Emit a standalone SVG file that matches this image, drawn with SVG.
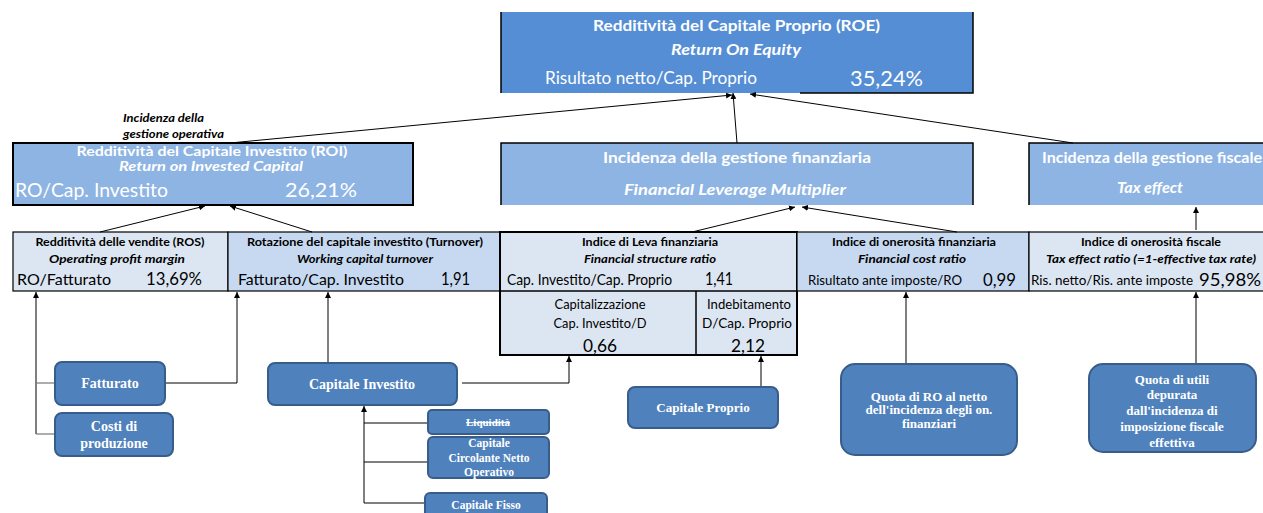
<svg xmlns="http://www.w3.org/2000/svg" width="1263" height="513" viewBox="0 0 1263 513">
<defs>
<marker id="ah" viewBox="0 0 10 10" refX="10" refY="5" markerWidth="6" markerHeight="6" orient="auto" markerUnits="userSpaceOnUse">
<path d="M0,0 L10,5 L0,10 z" fill="#000"/>
</marker>
<style>
.s{font-family:Lato,"Liberation Sans",sans-serif}
.w{fill:#fff}
.k{fill:#000}
.b{font-weight:bold}
.i{font-style:italic}
.m{text-anchor:middle}
.sf{font-family:"Liberation Serif",serif;font-weight:bold;fill:#fff;text-anchor:middle}
.rb{fill:#4F81BD;stroke:#385D8A;stroke-width:2}
.c{fill:none;stroke:#000;stroke-width:1}
.cg{fill:none;stroke:#777;stroke-width:1.2}
.ca{fill:none;stroke:#000;stroke-width:1;marker-end:url(#ah)}
.ln{stroke:#000;stroke-width:1.5;fill:none}
</style>
</defs>
<rect width="1263" height="513" fill="#fff"/>

<g id="roe">
<rect x="501" y="12" width="472" height="81" fill="#558ED5"/>
<path class="ln" d="M501,12 V93 M800,93 H973 V12"/>
<text class="s w b m" x="736.5" y="31" font-size="15" textLength="287" lengthAdjust="spacingAndGlyphs">Redditività del Capitale Proprio (ROE)</text>
<text class="s w b i m" x="736" y="55" font-size="15" textLength="130" lengthAdjust="spacingAndGlyphs">Return On Equity</text>
<text class="s w" x="545" y="84" font-size="17" textLength="212" lengthAdjust="spacingAndGlyphs">Risultato netto/Cap. Proprio</text>
<text class="s w" x="850" y="86" font-size="21" textLength="73" lengthAdjust="spacingAndGlyphs">35,24%</text>
</g>

<g id="roi">
<text class="s k b i" x="123" y="122" font-size="11" textLength="81" lengthAdjust="spacingAndGlyphs">Incidenza della</text>
<text class="s k b i" x="123" y="138" font-size="11" textLength="101" lengthAdjust="spacingAndGlyphs">gestione operativa</text>
<rect x="13" y="143" width="400" height="62" fill="#8EB4E3" stroke="#000" stroke-width="2"/>
<text class="s w b m" x="212" y="156" font-size="14" textLength="271" lengthAdjust="spacingAndGlyphs">Redditività del Capitale Investito (ROI)</text>
<text class="s w b i m" x="211" y="171" font-size="14" textLength="184" lengthAdjust="spacingAndGlyphs">Return on Invested Capital</text>
<text class="s w" x="15" y="197" font-size="20" textLength="153" lengthAdjust="spacingAndGlyphs">RO/Cap. Investito</text>
<text class="s w" x="285" y="197" font-size="20" textLength="72" lengthAdjust="spacingAndGlyphs">26,21%</text>
</g>

<g id="finanziaria">
<rect x="501" y="143" width="472" height="62" fill="#8EB4E3"/>
<path class="ln" d="M501,205 V143 H973 V205"/>
<text class="s w b m" x="737" y="163" font-size="16" textLength="268" lengthAdjust="spacingAndGlyphs">Incidenza della gestione finanziaria</text>
<text class="s w b i m" x="735" y="195" font-size="16" textLength="222" lengthAdjust="spacingAndGlyphs">Financial Leverage Multiplier</text>
</g>

<g id="fiscale">
<rect x="1029" y="143" width="240" height="62" fill="#8EB4E3"/>
<path class="ln" d="M1029,205 V143 H1263"/>
<text class="s w b" x="1042" y="163" font-size="15" textLength="220" lengthAdjust="spacingAndGlyphs">Incidenza della gestione fiscale</text>
<text class="s w b i m" x="1150" y="193" font-size="15" textLength="66" lengthAdjust="spacingAndGlyphs">Tax effect</text>
</g>

<g id="ros">
<rect x="13" y="232" width="215" height="59" fill="#DCE6F2" stroke="#000" stroke-width="1.2"/>
<text class="s k b m" x="120" y="246" font-size="12" textLength="169" lengthAdjust="spacingAndGlyphs">Redditività delle vendite (ROS)</text>
<text class="s k b i m" x="117" y="263" font-size="12" textLength="136" lengthAdjust="spacingAndGlyphs">Operating profit margin</text>
<text class="s k" x="17" y="285" font-size="16" textLength="94" lengthAdjust="spacingAndGlyphs">RO/Fatturato</text>
<text class="s k" x="146" y="285" font-size="17" textLength="56" lengthAdjust="spacingAndGlyphs">13,69%</text>
</g>

<g id="turnover">
<rect x="228" y="232" width="272" height="59" fill="#C6D9F1" stroke="#000" stroke-width="1.2"/>
<text class="s k b m" x="365" y="246" font-size="12" textLength="236" lengthAdjust="spacingAndGlyphs">Rotazione del capitale investito (Turnover)</text>
<text class="s k b i m" x="365" y="263" font-size="12" textLength="136" lengthAdjust="spacingAndGlyphs">Working capital turnover</text>
<text class="s k" x="238" y="285" font-size="16" textLength="166" lengthAdjust="spacingAndGlyphs">Fatturato/Cap. Investito</text>
<text class="s k" x="441" y="285" font-size="17" textLength="29" lengthAdjust="spacingAndGlyphs">1,91</text>
</g>

<g id="leva">
<rect x="500" y="232" width="297" height="123" fill="#DCE6F2" stroke="#000" stroke-width="2"/>
<path class="ln" d="M500,291 H797 M696,291 V355"/>
<text class="s k b m" x="650" y="246" font-size="12" textLength="136" lengthAdjust="spacingAndGlyphs">Indice di Leva finanziaria</text>
<text class="s k b i m" x="650" y="263" font-size="12" textLength="132" lengthAdjust="spacingAndGlyphs">Financial structure ratio</text>
<text class="s k" x="507" y="285" font-size="15" textLength="165" lengthAdjust="spacingAndGlyphs">Cap. Investito/Cap. Proprio</text>
<text class="s k" x="705" y="285" font-size="17" textLength="28" lengthAdjust="spacingAndGlyphs">1,41</text>
<text class="s k m" x="600" y="309" font-size="13" textLength="91" lengthAdjust="spacingAndGlyphs">Capitalizzazione</text>
<text class="s k m" x="600" y="328" font-size="13" textLength="93" lengthAdjust="spacingAndGlyphs">Cap. Investito/D</text>
<text class="s k m" x="600" y="352" font-size="18" textLength="34" lengthAdjust="spacingAndGlyphs">0,66</text>
<text class="s k m" x="749" y="309" font-size="13" textLength="84" lengthAdjust="spacingAndGlyphs">Indebitamento</text>
<text class="s k m" x="747" y="328" font-size="13" textLength="90" lengthAdjust="spacingAndGlyphs">D/Cap. Proprio</text>
<text class="s k m" x="748" y="352" font-size="18" textLength="34" lengthAdjust="spacingAndGlyphs">2,12</text>
</g>

<g id="onerosita-fin">
<rect x="797" y="232" width="232" height="59" fill="#C6D9F1" stroke="#000" stroke-width="1.2"/>
<text class="s k b m" x="914" y="246" font-size="12" textLength="164" lengthAdjust="spacingAndGlyphs">Indice di onerosità finanziaria</text>
<text class="s k b i m" x="912" y="263" font-size="12" textLength="108" lengthAdjust="spacingAndGlyphs">Financial cost ratio</text>
<text class="s k" x="808" y="285" font-size="13" textLength="154" lengthAdjust="spacingAndGlyphs">Risultato ante imposte/RO</text>
<text class="s k" x="983" y="286" font-size="17" textLength="33" lengthAdjust="spacingAndGlyphs">0,99</text>
</g>

<g id="onerosita-fisc">
<rect x="1029" y="232" width="240" height="59" fill="#DCE6F2" stroke="#000" stroke-width="1.2"/>
<text class="s k b m" x="1151" y="246" font-size="12" textLength="140" lengthAdjust="spacingAndGlyphs">Indice di onerosità fiscale</text>
<text class="s k b i m" x="1151" y="263" font-size="12" textLength="210" lengthAdjust="spacingAndGlyphs">Tax effect ratio (=1-effective tax rate)</text>
<text class="s k" x="1031" y="285" font-size="13" textLength="162" lengthAdjust="spacingAndGlyphs">Ris. netto/Ris. ante imposte</text>
<text class="s k" x="1199" y="286" font-size="17" textLength="62" lengthAdjust="spacingAndGlyphs">95,98%</text>
</g>

<g id="connectors">
<line class="ca" x1="230" y1="143" x2="732" y2="95"/>
<line class="ca" x1="737" y1="143" x2="733" y2="93"/>
<line class="ca" x1="1073" y1="143" x2="750" y2="94"/>
<line class="ca" x1="100" y1="232" x2="205" y2="206"/>
<line class="ca" x1="312" y1="232" x2="230" y2="206"/>
<line class="ca" x1="692" y1="232" x2="795" y2="207"/>
<line class="ca" x1="957" y1="232" x2="802" y2="207"/>
<line class="ca" x1="1196" y1="230" x2="1196" y2="207"/>
<polyline class="ca" points="36,434 36,292"/>
<line class="cg" x1="36" y1="383" x2="55" y2="383"/>
<line class="cg" x1="36" y1="434" x2="55" y2="434"/>
<polyline class="ca" points="165,383 237,383 237,292"/>
<line class="ca" x1="328" y1="363" x2="328" y2="292"/>
<polyline class="ca" points="462,383 569,383 569,356"/>
<line class="ca" x1="364" y1="503" x2="364" y2="406"/>
<line class="c" x1="364" y1="423" x2="428" y2="423"/>
<line class="c" x1="364" y1="462" x2="428" y2="462"/>
<line class="c" x1="364" y1="503" x2="425" y2="503"/>
<line class="ca" x1="761" y1="387" x2="761" y2="356"/>
<line class="ca" x1="906" y1="364" x2="906" y2="292"/>
<line class="ca" x1="1196" y1="364" x2="1196" y2="292"/>
</g>

<g id="fatturato">
<rect class="rb" x="55" y="362" width="110" height="43" rx="7"/>
<text class="sf" x="110" y="388" font-size="14">Fatturato</text>
</g>
<g id="costi">
<rect class="rb" x="55" y="413" width="118" height="43" rx="7"/>
<text class="sf" x="114" y="431" font-size="14">Costi di</text>
<text class="sf" x="114" y="448" font-size="14">produzione</text>
</g>
<g id="capitale-investito">
<rect class="rb" x="268" y="363" width="189" height="42" rx="7"/>
<text class="sf" x="362" y="389" font-size="14">Capitale Investito</text>
</g>
<g id="liquidita">
<rect class="rb" x="428" y="410" width="121" height="24" rx="4"/>
<text class="sf" x="488" y="426" font-size="11" text-decoration="line-through">Liquidità</text>
</g>
<g id="ccno">
<rect class="rb" x="428" y="437" width="121" height="41" rx="5"/>
<text class="sf" x="489" y="447" font-size="11.5">Capitale</text>
<text class="sf" x="489" y="462" font-size="11.5">Circolante  Netto</text>
<text class="sf" x="489" y="476" font-size="11.5">Operativo</text>
</g>
<g id="capitale-fisso">
<rect class="rb" x="425" y="493" width="122" height="26" rx="5"/>
<text class="sf" x="486" y="509" font-size="11.5">Capitale  Fisso</text>
</g>
<g id="capitale-proprio">
<rect class="rb" x="628" y="387" width="150" height="41" rx="7"/>
<text class="sf" x="703" y="412" font-size="13">Capitale Proprio</text>
</g>
<g id="quota-ro">
<rect class="rb" x="841" y="364" width="176" height="91" rx="14"/>
<text class="sf" x="929" y="401" font-size="13">Quota di  RO  al netto</text>
<text class="sf" x="929" y="414" font-size="13">dell'incidenza degli on.</text>
<text class="sf" x="929" y="428" font-size="13">finanziari</text>
</g>
<g id="quota-utili">
<rect class="rb" x="1089" y="364" width="167" height="88" rx="14"/>
<text class="sf" x="1172" y="384" font-size="13">Quota di utili</text>
<text class="sf" x="1172" y="399" font-size="13">depurata</text>
<text class="sf" x="1172" y="415" font-size="13">dall'incidenza  di</text>
<text class="sf" x="1172" y="431" font-size="13">imposizione fiscale</text>
<text class="sf" x="1172" y="447" font-size="13">effettiva</text>
</g>
</svg>
